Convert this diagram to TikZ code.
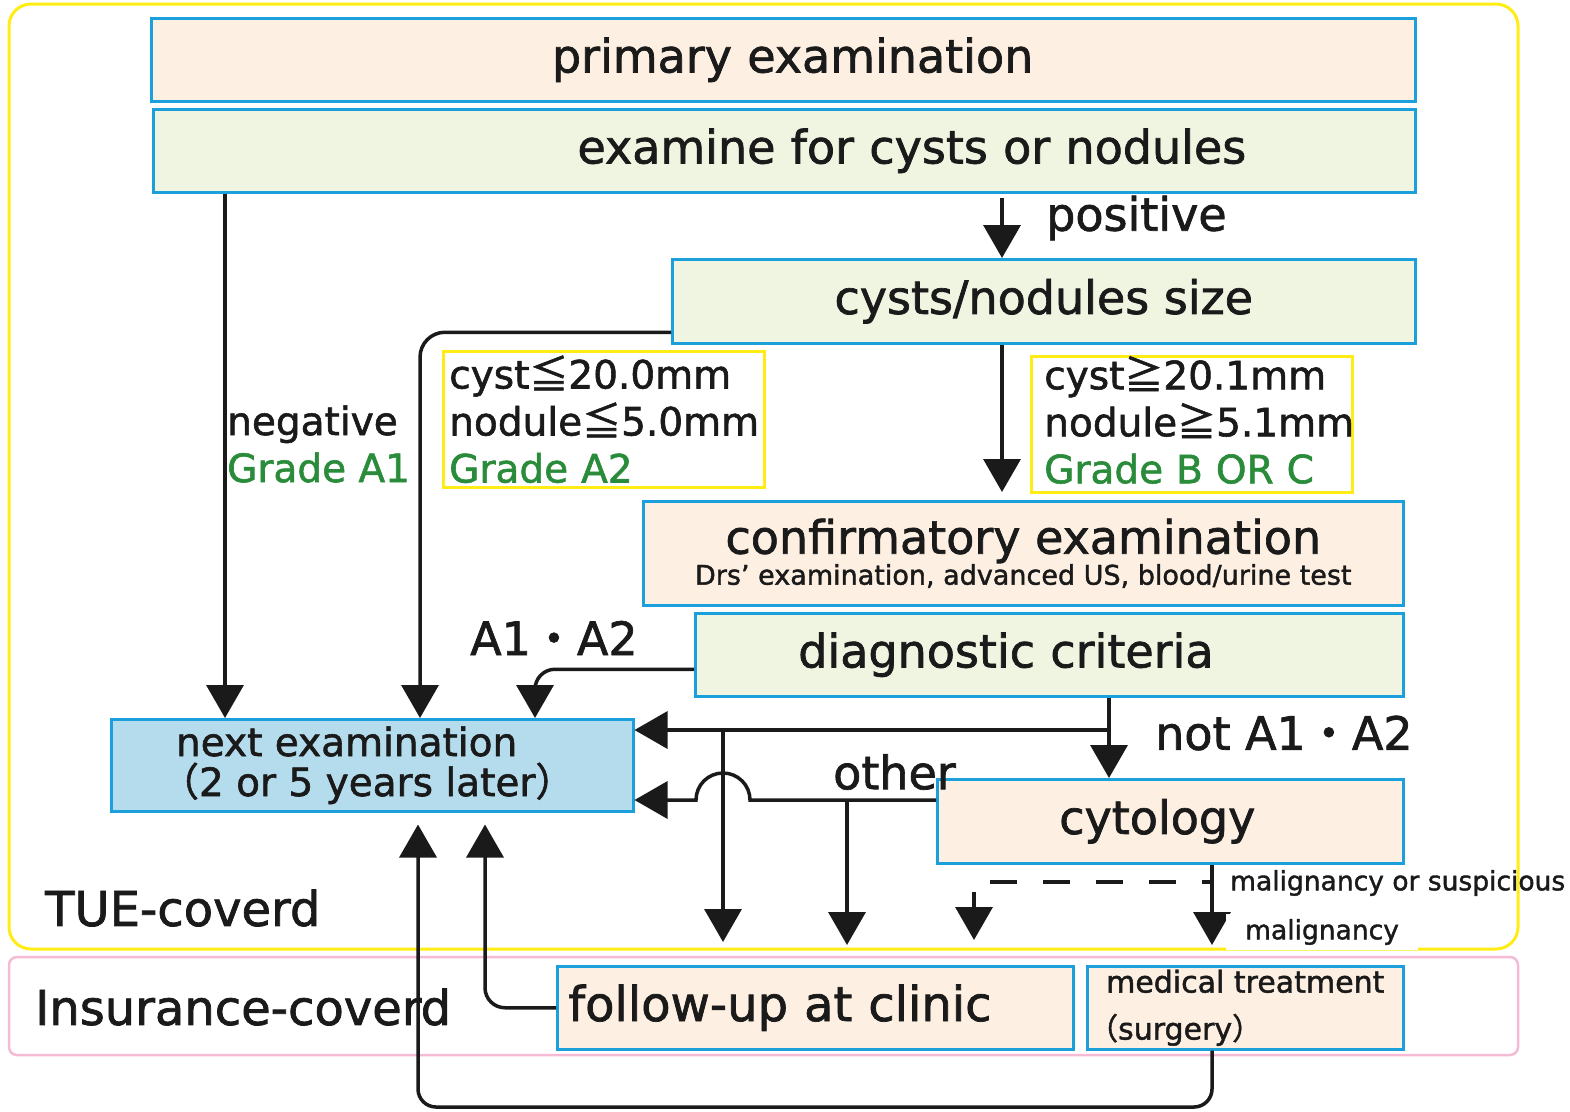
\documentclass[tikz,border=0pt]{standalone}
\usepackage{fontspec}
\setmainfont[FakeBold=1.5]{DejaVu Sans}
\newfontfamily\cjk[FakeBold=1.5]{Noto Sans CJK JP}
\usetikzlibrary{arrows.meta,positioning}

\definecolor{boxblue}{RGB}{28,160,219}
\definecolor{peachfill}{RGB}{253,239,225}
\definecolor{greenfill}{RGB}{240,245,226}
\definecolor{nextfill}{RGB}{180,220,236}
\definecolor{gyellow}{RGB}{255,236,20}
\definecolor{gpink}{RGB}{246,187,212}
\definecolor{gradegreen}{RGB}{42,140,58}
\definecolor{ink}{RGB}{26,26,26}

\begin{document}
\begin{tikzpicture}[x=1pt, y=-1pt,
    box/.style={draw=boxblue, line width=2.5pt, inner sep=0pt, anchor=north west},
    peachbox/.style={box, fill=peachfill},
    greenbox/.style={box, fill=greenfill},
    gradebox/.style={draw=gyellow, line width=2.5pt, anchor=north west, align=left, inner ysep=0pt},
    arr/.style={line width=3.5pt, ink, -{Triangle[width=37pt,length=33pt]}},
    bigtxt/.style={font=\fontsize{46}{52}\selectfont},
    midtxt/.style={font=\fontsize{39}{47}\selectfont},
    smalltxt/.style={font=\fontsize{26.5}{30}\selectfont}]
    \useasboundingbox (0,0) rectangle (1570,1111);

    % covered regions
    \draw[gyellow, line width=3pt, rounded corners=22pt] (9,4) rectangle (1518,949);
    \draw[gpink, line width=2.5pt, rounded corners=8pt] (9,957) rectangle (1518,1055);

    \begin{scope}[text=ink]
        % boxes
        \node[peachbox, minimum width=1264pt, minimum height=83pt, bigtxt, text width=500pt, inner xsep=382pt, align=right] (primary) at (150,17) {primary examination};
        \node[greenbox, minimum width=1262pt, minimum height=83pt, bigtxt, text width=924pt, inner xsep=169pt, align=right] (examine) at (152,108) {examine for cysts or nodules};
        \node[greenbox, minimum width=743pt, minimum height=84pt, bigtxt] (size) at (671,258) {cysts/nodules size};
        \node[gradebox, minimum width=321pt, minimum height=136pt, midtxt, text width=309pt, inner xsep=6pt] (gradeA2) at (442,350)
            {cyst{\cjk ≦}20.0mm\\nodule{\cjk ≦}5.0mm\\\textcolor{gradegreen}{Grade A2}};
        \node[gradebox, minimum width=321pt, minimum height=135pt, midtxt, text width=295pt, inner xsep=13pt] (gradeBC) at (1030,355)
            {cyst{\cjk ≧}20.1mm\\nodule{\cjk ≧}5.1mm\\\textcolor{gradegreen}{Grade B OR C}\rule[-9pt]{0pt}{9pt}};
        \node[peachbox, minimum width=760pt, minimum height=104pt, align=center, font=\fontsize{46}{31}\selectfont] (confirm) at (642,500)
            {confirmatory examination\\{\fontsize{27}{31}\selectfont Drs’ examination, advanced US, blood/urine test}};
        \node[greenbox, minimum width=708pt, minimum height=83pt, bigtxt, text width=502pt, inner xsep=103pt, align=left] (diag) at (694,612) {diagnostic criteria};
        \node[box, fill=nextfill, minimum width=522pt, minimum height=92pt, align=left, font=\fontsize{39}{40}\selectfont] (next) at (110,718)
            {\kern6pt next examination\\\kern-10pt{\cjk （}2 or 5 years later{\cjk ）}};
        \node[peachbox, minimum width=466pt, minimum height=84pt, bigtxt, text width=222pt, inner xsep=122pt, align=left] (cyto) at (936,778) {cytology};
        \node[peachbox, minimum width=516pt, minimum height=83pt, font=\fontsize{48}{52}\selectfont, text width=494pt, inner xsep=11pt, align=left] (follow) at (556,965) {follow-up at clinic};
        \node[peachbox, minimum width=316pt, minimum height=83pt, align=left, font=\fontsize{30}{47}\selectfont] (medical) at (1086,965)
            {medical treatment\\\kern-18pt{\cjk （}surgery{\cjk ）}};

        % x and y positions of the connectors
        \coordinate (xneg) at (225,0);
        \coordinate (xa2) at (420,0);
        \coordinate (xpos) at (1002,0);
        \coordinate (xa1a2) at (535,0);
        \coordinate (xnot) at (1109,0);
        \coordinate (xclin) at (723,0);
        \coordinate (xoth) at (847,0);
        \coordinate (xmal) at (1212,0);
        \coordinate (xsus) at (974,0);
        \coordinate (xfol) at (485,0);
        \coordinate (xsur) at (418,0);
        \coordinate (ynot) at (0,730);
        \coordinate (yoth) at (0,800);
        \coordinate (ydash) at (0,882);
        \coordinate (ybot) at (0,1107);

        % connectors
        \draw[arr] (examine.south -| xneg) -- (next.north -| xneg);
        \draw[arr, shorten <=4pt] (examine.south -| xpos) -- (size.north -| xpos);
        \draw[arr, rounded corners=25pt] ([yshift=-31pt]size.west) -| (next.north -| xa2);
        \draw[arr, shorten >=8pt] (size.south -| xpos) -- (confirm.north -| xpos);
        \draw[arr, rounded corners=20pt] ([yshift=-14.5pt]diag.west) -| (next.north -| xa1a2);
        \draw[arr] (diag.south -| xnot) -- (cyto.north -| xnot);
        \draw[arr] (xnot |- ynot) -- (next.east |- ynot);
        \draw[arr, shorten >=23pt] (xclin |- ynot) -- (follow.north -| xclin);
        \draw[arr] (cyto.west |- yoth) -- ([xshift=27pt]xclin |- yoth)
            arc[start angle=0, end angle=180, radius=27pt] -- (next.east |- yoth);
        \draw[arr, shorten >=20pt] (xoth |- yoth) -- (follow.north -| xoth);
        \draw[arr, shorten >=20pt] (cyto.south -| xmal) -- (medical.north -| xmal);
        \draw[arr, dash pattern=on 27pt off 26pt, dash phase=17pt, shorten >=25pt] (xmal |- ydash) -| (follow.north -| xsus);
        \draw[arr, rounded corners=20pt, shorten >=12pt] (follow.west) -| (next.south -| xfol);
        \draw[arr, rounded corners=18pt, shorten >=12pt] (medical.south -| xmal) |- (xsur |- ybot) -- (next.south -| xsur);

        % labels
        \node[bigtxt, anchor=west, inner sep=0pt] (positive) at (1046,218) {positive};
        \node[midtxt, anchor=west, align=left, inner sep=0pt] (negative) at (227,444) {negative\\\textcolor{gradegreen}{Grade A1}};
        \node[bigtxt, anchor=west, inner sep=0pt] (a1a2) at (470,638) {A1{\cjk ・}A2};
        \node[bigtxt, anchor=west, inner sep=0pt] (notA) at (1155,733) {not A1{\cjk ・}A2};
        \node[bigtxt, anchor=west, inner sep=0pt] (other) at (833,772) {other};
        \node[smalltxt, anchor=west, inner sep=0pt] (malsus) at (1230,883) {malignancy or suspicious};
        \node[smalltxt, anchor=west, fill=white, inner xsep=19pt, inner ysep=5pt] (malig) at (1226,932) {malignancy};
        \node[font=\fontsize{48}{52}\selectfont, anchor=west, inner sep=0pt] (tue) at (45,908) {TUE-coverd};
        \node[font=\fontsize{48}{52}\selectfont, anchor=west, inner sep=0pt] (ins) at (35,1007) {Insurance-coverd};
    \end{scope}
\end{tikzpicture}
\end{document}
